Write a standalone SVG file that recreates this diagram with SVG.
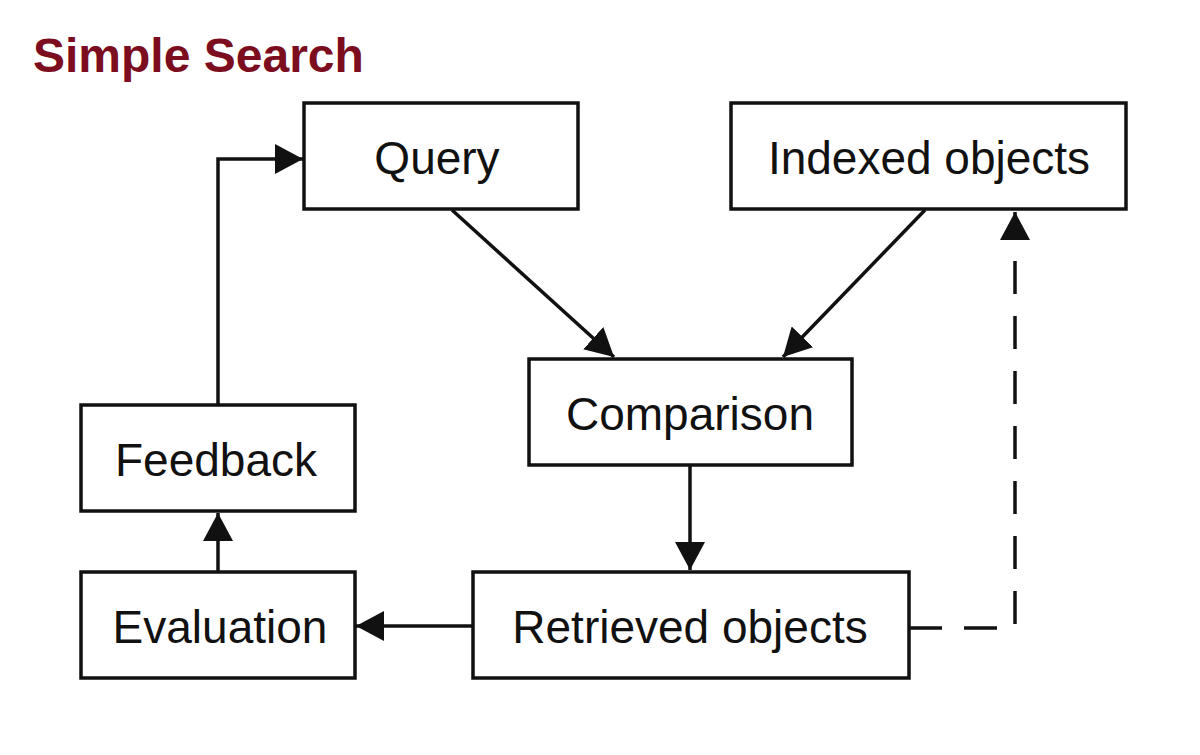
<svg xmlns="http://www.w3.org/2000/svg" width="1200" height="755" viewBox="0 0 1200 755">
<defs>
<style>
.box{fill:#fff;stroke:#111;stroke-width:3.5}
.lbl{font-family:"Liberation Sans",Arial,sans-serif;font-size:46px;fill:#111;text-anchor:middle}
.ln{fill:none;stroke:#111;stroke-width:3.5}
.dash{stroke-dasharray:33 22}
.title{font-family:"Liberation Sans",Arial,sans-serif;font-weight:bold;font-size:48px;fill:#7b0d1e}
</style>
<marker id="ah" viewBox="0 0 28 30" refX="28" refY="15" markerWidth="28" markerHeight="30" markerUnits="userSpaceOnUse" orient="auto">
<path d="M0,0 L28,15 L0,30 Z" fill="#111"/>
</marker>
</defs>
<rect width="1200" height="755" fill="#fff"/>
<text class="title" x="33" y="72">Simple Search</text>
<g id="connectors">
<path class="ln" d="M218,404 V159 H303" marker-end="url(#ah)"/>
<path class="ln" d="M452,210 L614,357" marker-end="url(#ah)"/>
<path class="ln" d="M925,210 L783,357" marker-end="url(#ah)"/>
<path class="ln" d="M690,466 V570" marker-end="url(#ah)"/>
<path class="ln" d="M218,571 V513" marker-end="url(#ah)"/>
<path class="ln" d="M473,626 H356" marker-end="url(#ah)"/>
<path class="ln dash" d="M909,628 H1015 V212" marker-end="url(#ah)"/>
</g>
<g id="query"><rect class="box" x="304" y="103" width="274" height="106"/><text class="lbl" x="437" y="174">Query</text></g>
<g id="indexed"><rect class="box" x="731" y="103" width="395" height="106"/><text class="lbl" x="929" y="174">Indexed objects</text></g>
<g id="comparison"><rect class="box" x="529" y="359" width="323" height="106"/><text class="lbl" x="690" y="430">Comparison</text></g>
<g id="feedback"><rect class="box" x="81" y="405" width="274" height="106"/><text class="lbl" x="216" y="476">Feedback</text></g>
<g id="evaluation"><rect class="box" x="81" y="572" width="274" height="106"/><text class="lbl" x="220" y="643">Evaluation</text></g>
<g id="retrieved"><rect class="box" x="473" y="572" width="436" height="106"/><text class="lbl" x="690" y="643">Retrieved objects</text></g>
</svg>
